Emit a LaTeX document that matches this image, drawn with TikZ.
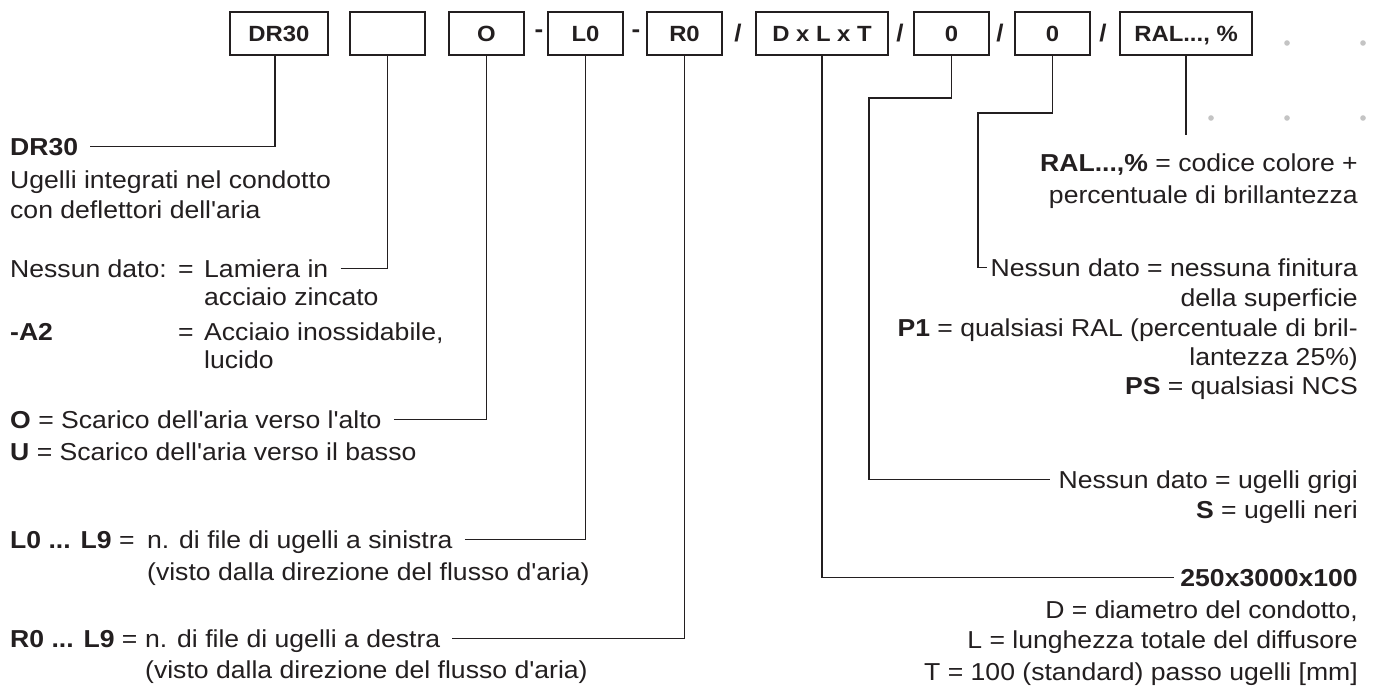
\documentclass[tikz,border=0pt]{standalone}
\usepackage{fontspec}
\setmainfont[FakeStretch=1.085,Ligatures=TeXOff]{Liberation Sans}
\usetikzlibrary{calc}
\definecolor{ink}{HTML}{231F20}
\definecolor{dotgray}{HTML}{C4C4C4}
\begin{document}
\begin{tikzpicture}[x=1pt,y=-1pt,
  every node/.style={inner sep=0pt, text=ink, font=\fontsize{24.5}{29}\selectfont},
  box/.style={draw=ink, line width=1.4pt, minimum height=43pt, text height=15.5pt, text depth=0pt,
              font=\fontsize{22}{26}\selectfont\bfseries},
  sepmark/.style={font=\fontsize{24}{28}\selectfont\bfseries},
  lbl/.style={anchor=base west},
  rlbl/.style={anchor=base east},
  conn/.style={draw=ink, line width=1.2pt},
  dotmark/.style={fill=dotgray}]
\fill[white] (0,0) rectangle (1375,688);
\useasboundingbox (0,0) rectangle (1375,688);

% code boxes
\node[box, minimum width=98pt]  (b1) at (279,33.5) {DR30};
\node[box, minimum width=75pt]  (b2) at (387.5,33.5) {};
\node[box, minimum width=75pt]  (b3) at (486.5,33.5) {O};
\node[sepmark] (s1) at (539,33.5) {-};
\node[box, minimum width=75pt]  (b4) at (585.5,33.5) {L0};
\node[sepmark] (s2) at (636,33.5) {-};
\node[box, minimum width=75pt]  (b5) at (684.5,33.5) {R0};
\node[sepmark] (s3) at (738,33.5) {/};
\node[box, minimum width=132pt] (b6) at (822,33.5) {D x L x T};
\node[sepmark] (s4) at (900,33.5) {/};
\node[box, minimum width=75pt]  (b7) at (951.5,33.5) {0};
\node[sepmark] (s5) at (1000,33.5) {/};
\node[box, minimum width=75pt]  (b8) at (1052.5,33.5) {0};
\node[sepmark] (s6) at (1103,33.5) {/};
\node[box, minimum width=132pt] (b9) at (1186,33.5) {RAL..., \%};

% decorative dots
\fill[dotmark] (1287,43) circle (2.8pt);
\fill[dotmark] (1363,43) circle (2.8pt);
\fill[dotmark] (1211,118) circle (2.8pt);
\fill[dotmark] (1287,118) circle (2.8pt);
\fill[dotmark] (1363,118) circle (2.8pt);

% left texts
\node[lbl] (dr) at (10,155) {\textbf{DR30}};
\node[lbl] (ug1) at (10,188) {Ugelli integrati nel condotto};
\node[lbl] (ug2) at (10,218) {con deflettori dell'aria};
\node[lbl] (nd) at (10,277) {Nessun dato:};
\node[lbl] (eq1) at (178,277) {=};
\node[lbl] (lam1) at (204,277) {Lamiera in};
\node[lbl] (lam2) at (204,305) {acciaio zincato};
\node[lbl] (a2) at (10,340) {\textbf{-A2}};
\node[lbl] (eq2) at (178,340) {=};
\node[lbl] (ac1) at (204,340) {Acciaio inossidabile,};
\node[lbl] (ac2) at (204,368) {lucido};
\node[lbl] (o1) at (10,428) {\textbf{O} = Scarico dell'aria verso l'alto};
\node[lbl] (u1) at (10,460) {\textbf{U} = Scarico dell'aria verso il basso};
\node[lbl] (l0) at (10,548) {\textbf{L0 ... L9} =};
\node[lbl] (l1) at (147,548) {n. di file di ugelli a sinistra};
\node[lbl] (l2) at (147,580) {(visto dalla direzione del flusso d'aria)};
\node[lbl] (r0) at (10,647) {\textbf{R0 ... L9} =};
\node[lbl] (r1) at (145,647) {n. di file di ugelli a destra};
\node[lbl] (r2) at (145,678) {(visto dalla direzione del flusso d'aria)};

% right texts
\node[rlbl] (ral1) at (1358,171) {\textbf{RAL...,\%} = codice colore +};
\node[rlbl] (ral2) at (1358,203) {percentuale di brillantezza};
\node[rlbl] (f1) at (1358,276) {Nessun dato = nessuna finitura};
\node[rlbl] (f2) at (1358,306) {della superficie};
\node[rlbl] (f3) at (1358,336) {\textbf{P1} = qualsiasi RAL (percentuale di bril-};
\node[rlbl] (f4) at (1358,365) {lantezza 25\%)};
\node[rlbl] (f5) at (1358,394) {\textbf{PS} = qualsiasi NCS};
\node[rlbl] (g1) at (1358,488) {Nessun dato = ugelli grigi};
\node[rlbl] (g2) at (1358,518) {\textbf{S} = ugelli neri};
\node[rlbl] (d1) at (1358,586) {\textbf{250x3000x100}};
\node[rlbl] (d2) at (1358,618) {D = diametro del condotto,};
\node[rlbl] (d3) at (1358,648) {L = lunghezza totale del diffusore};
\node[rlbl] (d4) at (1358,680) {T = 100 (standard) passo ugelli [mm]};

% bend points and free ends
\coordinate (k7) at (869,98);
\coordinate (k8) at (978,113);
\coordinate (ralend) at (1186,135);

% connectors, left
\draw[conn] ([shift={(12pt,8.5pt)}]dr.base east) -| ([xshift=-4pt]b1.south);
\draw[conn] ([shift={(12pt,8.5pt)}]lam1.base east) -| (b2.south);
\draw[conn] ([shift={(12pt,8.5pt)}]o1.base east) -| (b3.south);
\draw[conn] ([shift={(12pt,8.5pt)}]l1.base east) -| (b4.south);
\draw[conn] ([shift={(12pt,8.5pt)}]r1.base east) -| (b5.south);

% connectors, right
\draw[conn] (b9.south) -- (ralend);
\draw[conn] (b8.south) |- (k8) |- ([shift={(-3pt,8.5pt)}]f1.base west);
\draw[conn] (b7.south) |- (k7) |- ([shift={(-8pt,8.5pt)}]g1.base west);
\draw[conn] (b6.south) |- ([shift={(-6pt,8.5pt)}]d1.base west);
\end{tikzpicture}
\end{document}
